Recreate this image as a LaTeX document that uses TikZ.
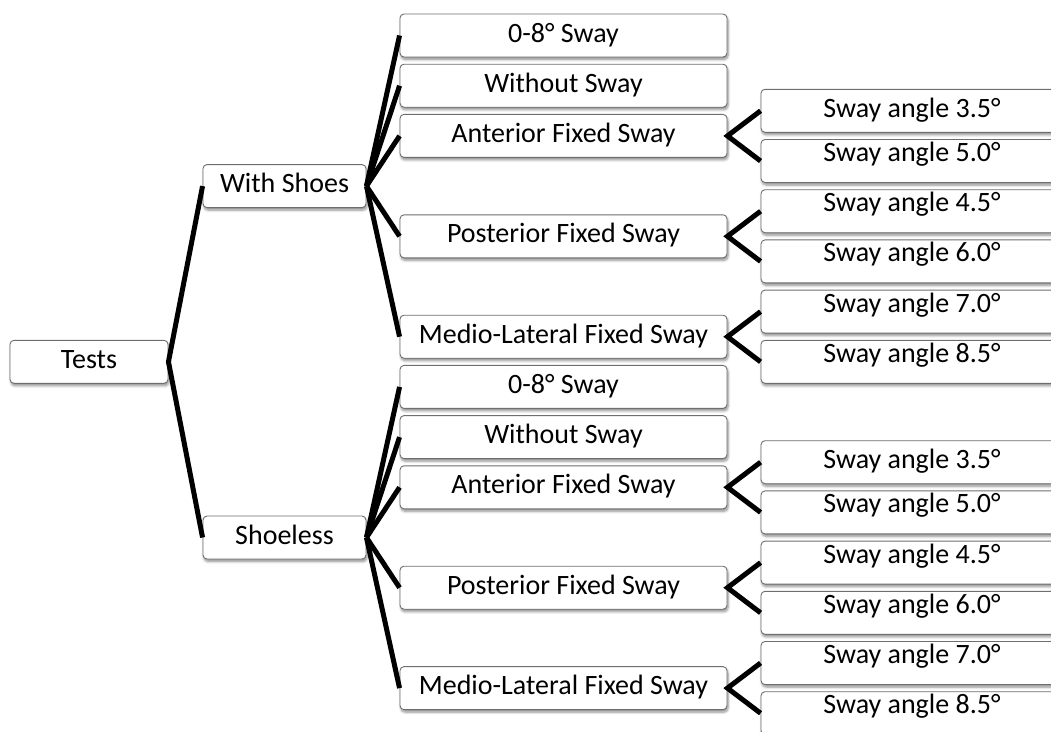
\documentclass[tikz,border=0pt]{standalone}
\usepackage{fontspec}
\setmainfont{Carlito}
\usetikzlibrary{shadows.blur}
\definecolor{boxgray}{RGB}{110,110,110}
\tikzset{
  box/.style={draw=boxgray, fill=white, rounded corners=4pt, line width=0.9pt,
    minimum height=43pt, inner xsep=0pt, inner ysep=0pt,
    text height=19pt, text depth=6pt,
    font=\fontsize{28}{30}\selectfont,
    blur shadow={shadow xshift=1pt, shadow yshift=-2.5pt, shadow blur steps=6,
      shadow blur radius=2.5pt, shadow opacity=45}},
  rootbox/.style={box, minimum width=158pt},
  grpbox/.style={box, minimum width=163pt},
  midbox/.style={box, minimum width=327pt},
  leafbox/.style={box, minimum width=302pt},
  leafup/.style={leafbox, text height=13pt, text depth=12pt},
  conn/.style={draw=black, line width=5pt}
}
\begin{document}
\begin{tikzpicture}[x=1pt,y=-1pt]
\path[use as bounding box, clip] (0,0) rectangle (1051,731);
% level 0
\node[rootbox] (tests) at (89,361.8) {Tests};
% level 1
\node[grpbox] (ws) at (284.5,186.1) {With Shoes};
\node[grpbox] (sl) at (284.5,537.5) {Shoeless};
% level 2, with shoes
\node[midbox] (a1) at (563.5,35.5) {0-8° Sway};
\node[midbox] (a2) at (563.5,85.7) {Without Sway};
\node[midbox] (a3) at (563.5,135.9) {Anterior Fixed Sway};
\node[midbox] (a4) at (563.5,236.3) {Posterior Fixed Sway};
\node[midbox] (a5) at (563.5,336.7) {Medio-Lateral Fixed Sway};
% level 2, shoeless
\node[midbox] (b1) at (563.5,386.9) {0-8° Sway};
\node[midbox] (b2) at (563.5,437.1) {Without Sway};
\node[midbox] (b3) at (563.5,487.3) {Anterior Fixed Sway};
\node[midbox] (b4) at (563.5,587.7) {Posterior Fixed Sway};
\node[midbox] (b5) at (563.5,688.1) {Medio-Lateral Fixed Sway};
% level 3, with shoes
\node[leafbox] (a31) at (912,110.8) {Sway angle 3.5°};
\node[leafup] (a32) at (912,161.0) {Sway angle 5.0°};
\node[leafup] (a41) at (912,211.2) {Sway angle 4.5°};
\node[leafup] (a42) at (912,261.4) {Sway angle 6.0°};
\node[leafup] (a51) at (912,311.6) {Sway angle 7.0°};
\node[leafup] (a52) at (912,361.8) {Sway angle 8.5°};
% level 3, shoeless
\node[leafbox] (b31) at (912,462.2) {Sway angle 3.5°};
\node[leafup] (b32) at (912,512.4) {Sway angle 5.0°};
\node[leafup] (b41) at (912,562.6) {Sway angle 4.5°};
\node[leafup] (b42) at (912,612.8) {Sway angle 6.0°};
\node[leafup] (b51) at (912,663.0) {Sway angle 7.0°};
\node[leafup] (b52) at (912,713.2) {Sway angle 8.5°};
% connectors
\draw[conn] (ws.west) -- (tests.east) -- (sl.west);
\foreach \c in {a1,a2,a3,a4,a5} \draw[conn] (ws.east) -- (\c.west);
\foreach \c in {b1,b2,b3,b4,b5} \draw[conn] (sl.east) -- (\c.west);
\draw[conn] (a31.west) -- (a3.east) -- (a32.west);
\draw[conn] (a41.west) -- (a4.east) -- (a42.west);
\draw[conn] (a51.west) -- (a5.east) -- (a52.west);
\draw[conn] (b31.west) -- (b3.east) -- (b32.west);
\draw[conn] (b41.west) -- (b4.east) -- (b42.west);
\draw[conn] (b51.west) -- (b5.east) -- (b52.west);
\end{tikzpicture}
\end{document}
